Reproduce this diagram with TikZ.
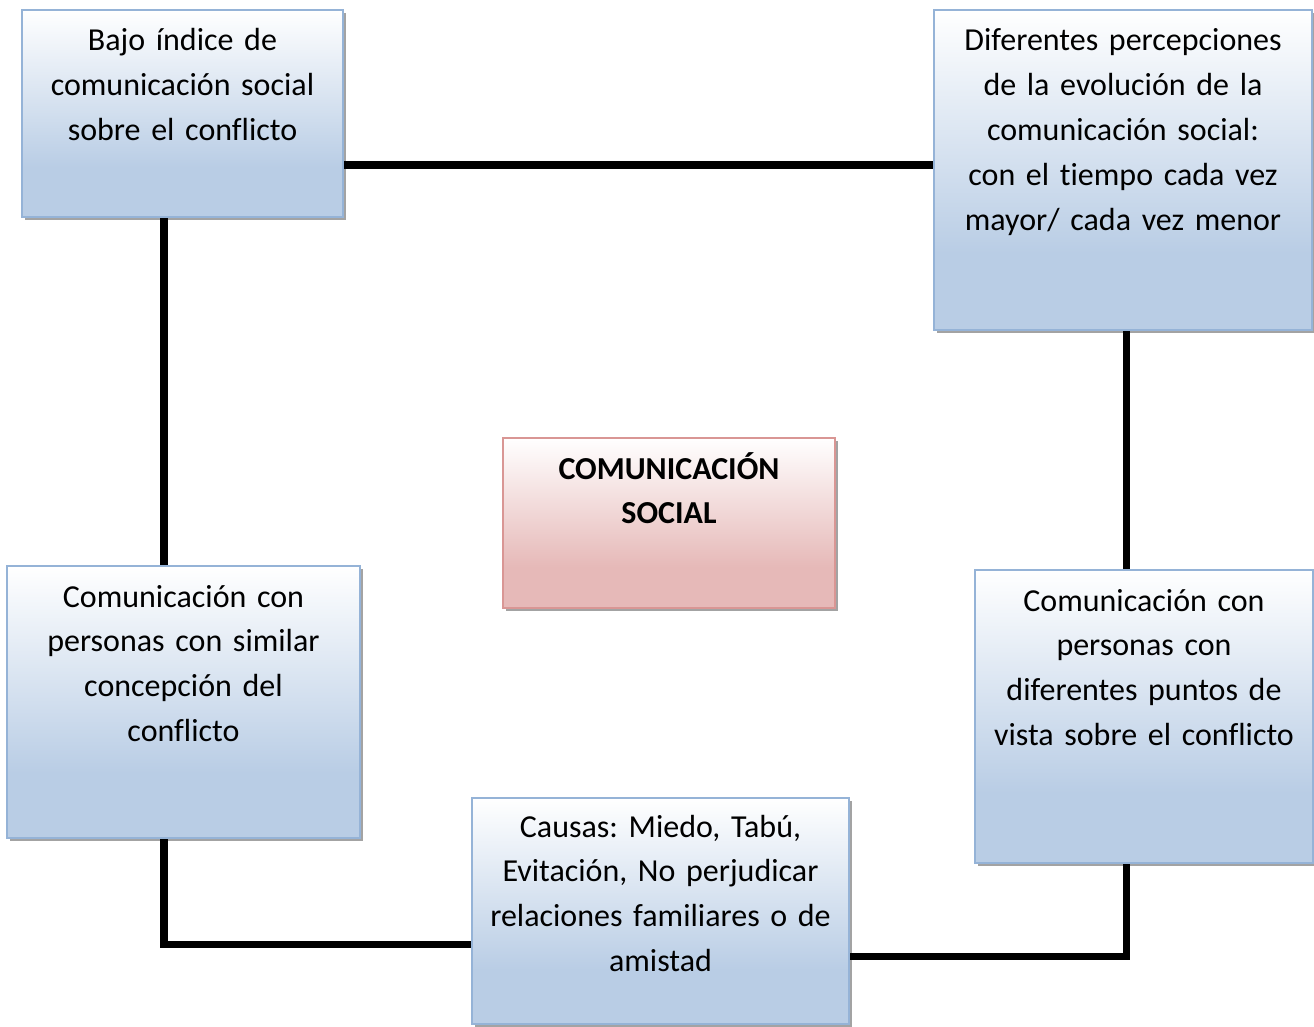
\documentclass[tikz,border=0pt]{standalone}
\usepackage{fontspec}
\setmainfont{Carlito}[Ligatures=NoCommon]
\frenchspacing
\usetikzlibrary{shadows,calc}
\definecolor{bfill}{HTML}{B9CDE5}
\definecolor{bdraw}{HTML}{95B3D7}
\definecolor{pfill}{HTML}{E6B9B8}
\definecolor{pdraw}{HTML}{D99694}
\definecolor{shadowc}{HTML}{A3A3A3}
\pgfdeclareverticalshading{blueshade}{100bp}{color(0bp)=(bfill); color(37bp)=(bfill); color(75bp)=(white); color(100bp)=(white)}
\pgfdeclareverticalshading{pinkshade}{100bp}{color(0bp)=(pfill); color(37bp)=(pfill); color(75bp)=(white); color(100bp)=(white)}
\tikzset{
  boxbase/.style={rectangle, inner sep=0pt, line width=1.5pt,
    drop shadow={shadow xshift=2.5pt, shadow yshift=-2.5pt, fill=shadowc, opacity=1}},
  bluebox/.style={boxbase, draw=bdraw, shading=blueshade},
  pinkbox/.style={boxbase, draw=pdraw, shading=pinkshade},
  txt/.style={anchor=base, align=center, font=\fontsize{24}{33.6}\selectfont, inner sep=0pt},
  conn/.style={line width=5.5pt, line join=miter, line cap=butt}
}
\begin{document}
\begin{tikzpicture}[x=0.75pt, y=-0.75pt]
\useasboundingbox (0,0) rectangle (1314,1027);
% boxes
\node[bluebox, minimum width=240.75pt, minimum height=155.25pt] (A) at (182.5,113.5) {};
\node[bluebox, minimum width=283.5pt, minimum height=240pt] (B) at (1123,170) {};
\node[pinkbox, minimum width=249pt, minimum height=127.5pt] (C) at (669,523) {};
\node[bluebox, minimum width=264.75pt, minimum height=204pt] (D) at (183.5,702) {};
\node[bluebox, minimum width=253.5pt, minimum height=219.75pt] (E) at (1144,716.5) {};
\node[bluebox, minimum width=282.75pt, minimum height=169.5pt] (F) at (660.5,911) {};
% texts
\node[txt, text width=232pt] (At) at ([yshift=-31.5pt]A.north) {Bajo índice de\\comunicación social\\sobre el conflicto};
\node[txt, text width=275pt] (Bt) at ([yshift=-31.5pt]B.north) {Diferentes percepciones\\de la evolución de la\\comunicación social:\\con el tiempo cada vez\\mayor/ cada vez menor};
\node[txt, text width=240pt, font=\fontsize{24}{33.6}\selectfont\bfseries] (Ct) at ([yshift=-31.5pt]C.north) {COMUNICACIÓN\\SOCIAL};
\node[txt, text width=256pt] (Dt) at ([yshift=-31.5pt]D.north) {Comunicación con\\personas con similar\\concepción del\\conflicto};
\node[txt, text width=245pt] (Et) at ([yshift=-31.5pt]E.north) {Comunicación con\\personas con\\diferentes puntos de\\vista sobre el conflicto};
\node[txt, text width=274pt] (Ft) at ([yshift=-30pt]F.north) {Causas: Miedo, Tabú,\\Evitación, No perjudicar\\relaciones familiares o de\\amistad};
% connector guide coordinates
\coordinate (yAB) at (0,165);
\coordinate (xL) at (164,0);
\coordinate (xR) at (1126.5,0);
\coordinate (yDF) at (0,944.5);
\coordinate (yEF) at (0,956.5);
% connectors
\draw[conn] (A.east |- yAB) -- (B.west |- yAB);
\draw[conn] (A.south -| xL) -- (D.north -| xL);
\draw[conn] (B.south -| xR) -- (E.north -| xR);
\draw[conn] (D.south -| xL) |- (F.west |- yDF);
\draw[conn] (E.south -| xR) |- (F.east |- yEF);
\end{tikzpicture}
\end{document}
